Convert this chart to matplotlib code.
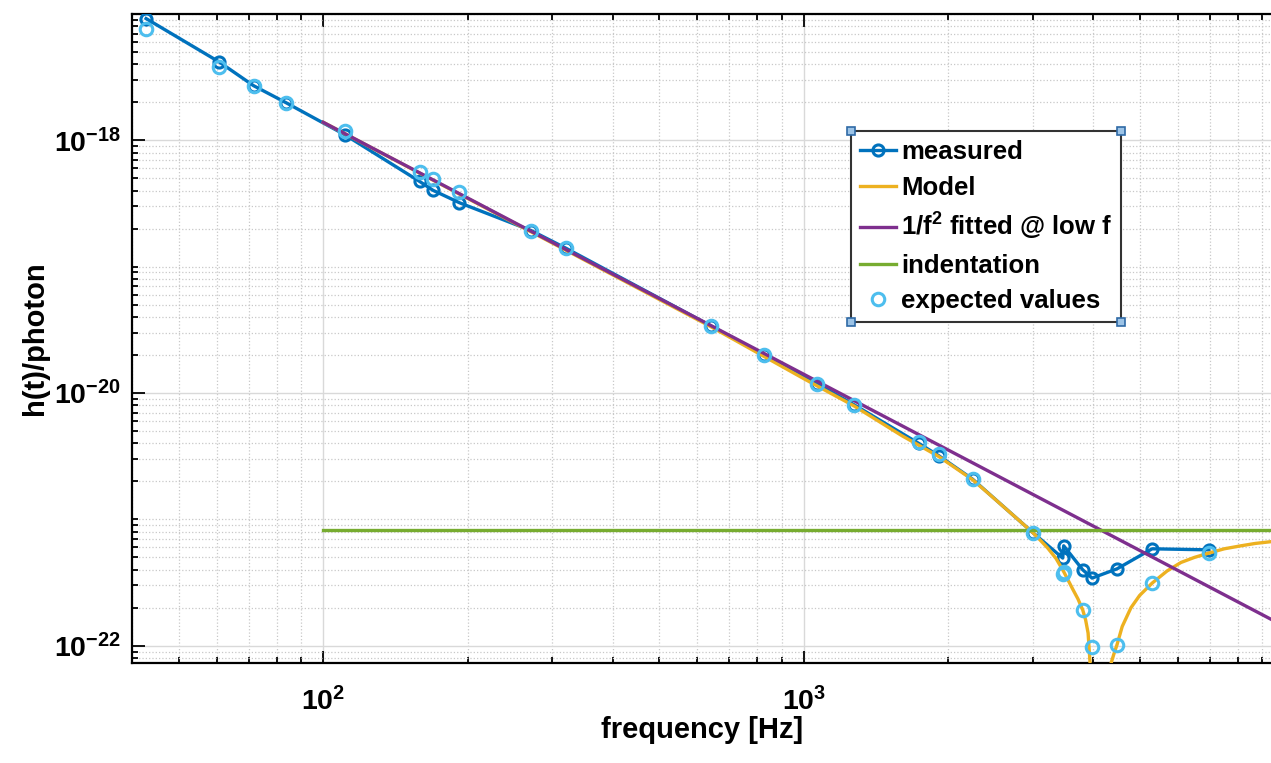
import matplotlib
matplotlib.use("Agg")
import matplotlib.pyplot as plt
import numpy as np
from matplotlib import font_manager
from matplotlib.patches import Rectangle
from matplotlib.ticker import LogLocator, NullFormatter

# --- data ---
freq = [42.8, 60.7, 71.6, 83.8, 110.8, 158.7, 169.3, 192, 271, 320, 640, 826,
        1068, 1273, 1734, 1908, 2246, 2996, 3459, 3475, 3807, 3981, 4487, 5309, 6966]
h_measured = [9.2e-18, 4.18e-18, 2.71e-18, 1.98e-18, 1.11e-18, 4.73e-19, 4.02e-19,
              3.21e-19, 1.93e-19, 1.40e-19, 3.41e-20, 1.99e-20, 1.18e-20, 8.07e-21,
              4.0e-21, 3.2e-21, 2.08e-21, 7.87e-22, 4.94e-22, 6.18e-22, 3.99e-22,
              3.43e-22, 4.06e-22, 5.85e-22, 5.74e-22]
h_expected = [7.66e-18, 3.81e-18, 2.71e-18, 1.98e-18, 1.18e-18, 5.58e-19, 4.94e-19,
              3.87e-19, 1.93e-19, 1.40e-19, 3.41e-20, 1.99e-20, 1.18e-20, 8.07e-21,
              4.1e-21, 3.3e-21, 2.08e-21, 7.87e-22, 3.7e-22, 3.86e-22, 1.92e-22,
              9.75e-23, 1.02e-22, 3.13e-22, 5.41e-22]

model_f = [100, 320, 640, 1000, 1273, 1600, 1908, 2246, 2453, 2750, 2996, 3100,
           3219, 3350, 3475, 3635, 3720, 3807, 3860, 3906, 3943, 4150, 4362, 4420,
           4487, 4600, 4797, 5000, 5309, 5700, 6095, 6500, 6966, 7500, 8128, 8700,
           9441]
model_h = [1.39e-18, 1.35e-19, 3.36e-20, 1.30e-20, 7.9e-21, 4.6e-21, 3.15e-21,
           2.06e-21, 1.54e-21, 1.05e-21, 7.87e-22, 6.9e-22, 5.93e-22, 4.9e-22,
           3.86e-22, 2.77e-22, 2.35e-22, 1.92e-22, 1.6e-22, 1.26e-22, 7.3e-23,
           1e-24, 7.3e-23, 8.6e-23, 1.02e-22, 1.42e-22, 2.0e-22, 2.5e-22, 3.13e-22,
           3.9e-22, 4.56e-22, 5.0e-22, 5.41e-22, 5.85e-22, 6.18e-22, 6.45e-22,
           6.68e-22]

fit_f = [100, 9441]
fit_h = [1.39e-18, 1.60e-22]

indent_f = [100, 9441]
indent_h = [8.28e-22, 8.28e-22]

# --- fonts ---
def have(name):
    try:
        font_manager.findfont(name, fallback_to_default=False)
        return True
    except Exception:
        return False

main_font = "Liberation Sans" if have("Liberation Sans") else "DejaVu Sans"
plt.rcParams["font.family"] = [main_font, "DejaVu Sans"]
plt.rcParams["font.weight"] = "bold"
plt.rcParams["mathtext.fontset"] = "custom"
plt.rcParams["mathtext.rm"] = main_font + ":bold"
plt.rcParams["mathtext.it"] = main_font + ":bold"
plt.rcParams["mathtext.bf"] = main_font + ":bold"

W, H = 1271, 763
fig = plt.figure(figsize=(W / 100, H / 100), dpi=100)
ax = fig.add_axes([132 / W, 1 - 663 / H, (W - 132) / W + 0.001, (663 - 14) / H])

ax.plot(freq, h_measured, "-o", color="#0072BD", lw=2.4, ms=8, mfc="none",
        mew=2.2, label="measured", zorder=3)
ax.plot(model_f, model_h, color="#EDB120", lw=2.4, label="Model", zorder=4)
ax.plot(fit_f, fit_h, color="#7E2F8E", lw=2.4, label="1/f$^2$ fitted @ low f", zorder=5)
ax.plot(indent_f, indent_h, color="#77AC30", lw=2.4, label="indentation", zorder=5)
ax.plot(freq, h_expected, "o", color="#4DBEEE", ms=9, mfc="none", mew=2.2,
        label="expected values", zorder=6)

ax.set_xscale("log")
ax.set_yscale("log")
ax.set_xlim(40, 9441)
ax.set_ylim(7.3e-23, 1e-17)

ax.set_yticks([1e-18, 1e-20, 1e-22])
ax.set_xticks([100, 1000])
ax.yaxis.set_minor_locator(LogLocator(base=10, subs=np.arange(1, 10), numticks=50))
ax.yaxis.set_minor_formatter(NullFormatter())
ax.xaxis.set_minor_locator(LogLocator(base=10, subs=np.arange(2, 10), numticks=50))
ax.xaxis.set_minor_formatter(NullFormatter())

ax.grid(True, which="major", color="#d9d9d9", lw=1.0, zorder=0)
ax.grid(True, which="minor", color="#c8c8c8", lw=0.9, ls=":", zorder=0)
ax.set_axisbelow(True)

ax.tick_params(which="both", direction="in", top=True, right=False, width=1.3,
               color="black", labelsize=20.5)
ax.tick_params(which="major", length=9)
ax.tick_params(which="minor", length=4.5)
ax.tick_params(axis="x", pad=17)
ax.tick_params(axis="y", pad=8)
for side in ["left", "bottom", "top"]:
    ax.spines[side].set_linewidth(1.6)
ax.spines["right"].set_visible(False)

ax.set_xlabel("frequency [Hz]", fontsize=21, fontweight="bold")
ax.set_ylabel("h(t)/photon", fontsize=21, fontweight="bold")
ax.xaxis.set_label_coords(0.5, -0.082)
ax.yaxis.set_label_coords(-0.073, 0.5)

leg = ax.legend(loc="upper left", bbox_to_anchor=(851 / W, 1 - 131 / H),
                bbox_transform=fig.transFigure, borderaxespad=0, fancybox=False,
                framealpha=1, edgecolor="#333333", fontsize=18.5, numpoints=1,
                handlelength=1.4, handletextpad=0.2, labelspacing=0.45,
                borderpad=0.35)
leg.get_frame().set_linewidth(1.5)
leg.set_zorder(10)

# selection handles at legend corners
fig.canvas.draw()
bb = leg.get_window_extent()
s = 8
for cx in (bb.x0, bb.x1):
    for cy in (bb.y0, bb.y1):
        fig.patches.append(Rectangle((cx - s / 2, cy - s / 2), s, s,
                                     transform=None, facecolor="#9cc3e6",
                                     edgecolor="#2f6aa6", lw=1.2, zorder=20))

fig.savefig("out.png", dpi=100)
